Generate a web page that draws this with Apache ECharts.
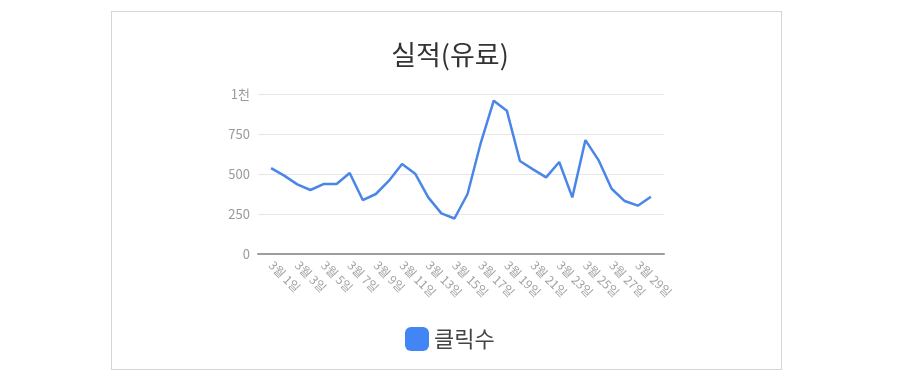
<!DOCTYPE html>
<html>
<head>
<meta charset="utf-8">
<script src="https://cdn.jsdelivr.net/npm/echarts@6/dist/echarts.min.js"></script>
<style>
  html, body { margin: 0; padding: 0; background: #fff; }
  #frame {
    position: absolute; left: 111px; top: 11px;
    width: 669px; height: 357px;
    border: 1px solid #d6d6d6;
  }
  #chart { position: absolute; left: 0; top: 0; width: 905px; height: 382px; }
</style>
</head>
<body>
<div id="frame"></div>
<div id="chart"></div>
<script>
// 3월 1일 ~ 3월 30일 클릭수
const days = [
  '3월 1일', '3월 2일', '3월 3일', '3월 4일', '3월 5일', '3월 6일', '3월 7일', '3월 8일',
  '3월 9일', '3월 10일', '3월 11일', '3월 12일', '3월 13일', '3월 14일', '3월 15일',
  '3월 16일', '3월 17일', '3월 18일', '3월 19일', '3월 20일', '3월 21일', '3월 22일',
  '3월 23일', '3월 24일', '3월 25일', '3월 26일', '3월 27일', '3월 28일', '3월 29일', '3월 30일'
]
const clicks = [
  537, 490, 435, 400, 437, 437, 506, 337, 375, 458,
  562, 502, 354, 254, 222, 375, 692, 958, 896, 581,
  529, 479, 575, 354, 712, 587, 408, 331, 302, 358
]
const yTicks = [0, 250, 500, 750, 1000]
const yTickLabels = { 1000: '1천' }

// 양쪽 여백용 빈 칸 하나씩
const axisData = ['', ...days, '']
const lineData = [null, ...clicks, null]

const chart = echarts.init(document.getElementById('chart'))

chart.setOption({
  animation: false,
  title: {
    text: '실적(유료)',
    left: 445,
    textAlign: 'center',
    top: 36,
    textStyle: {
      fontFamily: 'Noto Sans CJK KR',
      fontSize: 27,
      fontWeight: 'normal',
      color: '#333',
    },
  },
  legend: {
    data: ['클릭수'],
    left: 400,
    top: 322,
    icon: 'roundRect',
    itemWidth: 24,
    itemHeight: 24,
    itemGap: 10,
    textStyle: {
      fontFamily: 'Noto Sans CJK KR',
      fontSize: 22,
      color: '#444',
    },
  },
  grid: {
    left: 258,
    right: 241,
    top: 94,
    bottom: 128,
  },
  xAxis: {
    type: 'category',
    data: axisData,
    boundaryGap: false,
    axisTick: { show: false },
    axisLine: {
      lineStyle: { color: '#9e9e9e', width: 2 },
    },
    axisLabel: {
      rotate: -45,
      interval: (i) => i % 2 === 1,
      margin: 9,
      color: '#a0a0a0',
      fontSize: 12,
      fontFamily: 'Noto Sans CJK KR',
    },
    splitLine: { show: false },
  },
  yAxis: {
    type: 'value',
    min: yTicks[0],
    max: yTicks[yTicks.length - 1],
    interval: 250,
    axisLine: { show: false },
    axisTick: { show: false },
    axisLabel: {
      margin: 8,
      color: '#9a9a9a',
      fontSize: 13,
      fontFamily: 'Noto Sans CJK KR',
      formatter: (v) => yTickLabels[v] || String(v),
    },
    splitLine: {
      lineStyle: { color: '#e6e6e6', width: 1 },
    },
  },
  series: [
    {
      name: '클릭수',
      type: 'line',
      data: lineData,
      symbol: 'none',
      lineStyle: { width: 2.5, color: '#4a86e8' },
      itemStyle: { color: '#4285f4' },
    },
  ],
})
</script>
</body>
</html>
